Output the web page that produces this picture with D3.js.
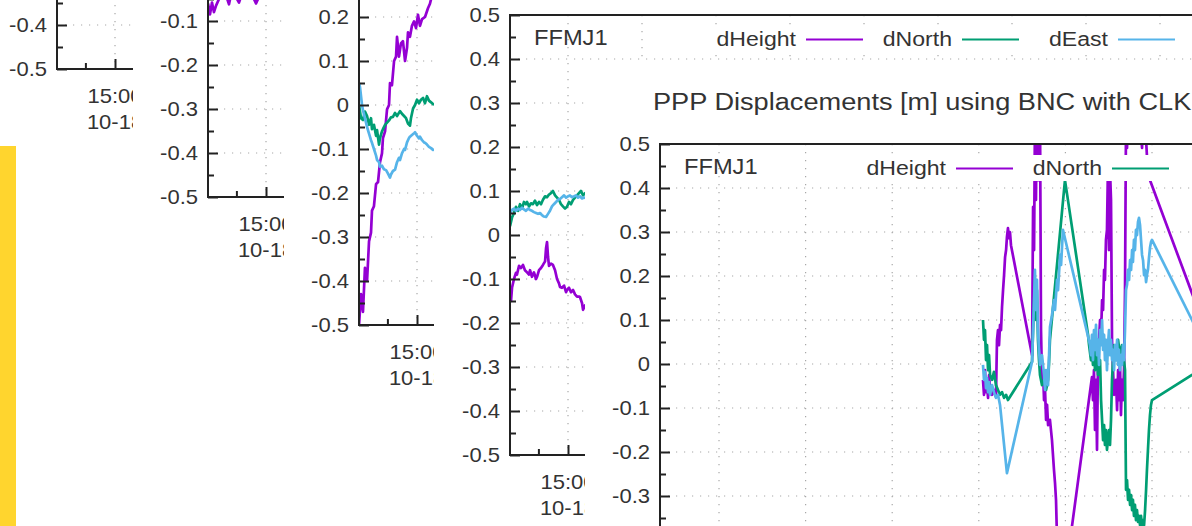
<!DOCTYPE html>
<html><head><meta charset="utf-8">
<script src="https://cdn.jsdelivr.net/npm/d3@7"></script>
<style>
html,body{margin:0;padding:0;background:#fff;}
svg{display:block;}
text{font-family:"Liberation Sans",Arial,sans-serif;fill:#333;}
</style></head><body>
<svg id="chart" width="1192" height="526"></svg>
<script>
// ---------- data ----------
const seriesNames = ["dHeight", "dNorth", "dEast"];
const seriesColors = ["#9400d3", "#009e73", "#56b4e9"];
const stationLabel = "FFMJ1";
const chartTitle = "PPP Displacements [m] using BNC with CLK";
const yMajorTicks = [-0.5, -0.4, -0.3, -0.2, -0.1, 0, 0.1, 0.2, 0.3, 0.4, 0.5];
const yMinorTicks = [-0.45, -0.35, -0.25, -0.15, -0.05, 0.05, 0.15, 0.25, 0.35, 0.45];
const xMajorTicksMin = [0, 60, 120, 180, 240, 300, 360, 420, 480, 540];
const xMinorTicksMin = [-24, 36, 96, 156, 216, 276, 336, 396, 456, 516];
const xTickTimeFormat = "%H:%M";
const xTickDateFormat = "%m-%d";

// [minutes after 15:00, metres]
const panelB_dHeight = [[-47.0,-0.06],[-45.4,-0.085],[-43.8,-0.058],[-42.2,-0.08],[-40.5,-0.065],[-37.3,-0.045],[-33.2,-0.035],[-30.0,-0.062],[-28.4,-0.04],[-25.1,-0.042],[-21.9,-0.058],[-20.3,-0.045],[-16.2,-0.038],[-11.4,-0.04],[-8.1,-0.06],[-6.5,-0.05],[-3.2,-0.035],[1.6,-0.03],[7.3,-0.035],[14.6,-0.03]];

const panelC_dHeight = [[-47.0,-0.5],[-45.4,-0.43],[-43.8,-0.47],[-42.2,-0.37],[-40.5,-0.40],[-38.9,-0.31],[-37.3,-0.29],[-36.5,-0.24],[-34.9,-0.23],[-33.2,-0.18],[-31.6,-0.175],[-30.0,-0.13],[-28.4,-0.11],[-27.6,-0.075],[-25.9,-0.06],[-24.3,-0.01],[-22.7,0.0],[-21.9,0.05],[-20.3,0.045],[-18.6,0.10],[-17.0,0.11],[-16.2,0.155],[-14.6,0.11],[-13.0,0.14],[-11.4,0.145],[-9.7,0.10],[-8.1,0.13],[-7.3,0.165],[-5.7,0.155],[-4.1,0.18],[-2.4,0.19],[-0.8,0.175],[0.8,0.205],[2.4,0.18],[4.1,0.195],[6.5,0.2],[8.9,0.22],[10.5,0.23],[12.2,0.25],[13.8,0.26]];
const panelC_dNorth = [[-47.0,0.0],[-45.4,-0.03],[-43.8,-0.034],[-42.2,-0.015],[-40.5,-0.025],[-38.9,-0.045],[-37.3,-0.03],[-36.5,-0.055],[-34.9,-0.045],[-33.2,-0.07],[-32.4,-0.057],[-30.8,-0.09],[-30.0,-0.075],[-28.4,-0.06],[-27.6,-0.055],[-25.9,-0.045],[-24.3,-0.04],[-22.7,-0.035],[-21.1,-0.028],[-19.5,-0.027],[-17.8,-0.018],[-16.2,-0.025],[-13.8,-0.014],[-12.2,-0.02],[-10.5,-0.025],[-8.9,-0.03],[-7.3,-0.042],[-5.7,-0.047],[-4.9,-0.03],[-3.2,-0.008],[-1.6,0.0],[0,0.012],[1.6,0.004],[3.2,0.012],[4.9,0.016],[6.5,0.004],[8.1,0.02],[9.7,0.01],[11.4,0.006],[13.8,0.0]];
const panelC_dEast = [[-47.0,0.05],[-46.2,0.04],[-45.4,0.02],[-44.6,0.0],[-43.8,-0.012],[-42.2,-0.03],[-40.5,-0.05],[-38.9,-0.065],[-37.3,-0.08],[-36.5,-0.086],[-34.9,-0.1],[-33.2,-0.115],[-32.4,-0.125],[-30.8,-0.13],[-30.0,-0.14],[-28.4,-0.138],[-26.8,-0.146],[-25.1,-0.148],[-23.5,-0.156],[-21.9,-0.165],[-21.1,-0.158],[-19.5,-0.15],[-17.8,-0.147],[-16.2,-0.13],[-14.6,-0.12],[-13.8,-0.125],[-12.2,-0.11],[-10.5,-0.1],[-9.7,-0.102],[-8.1,-0.085],[-6.5,-0.075],[-5.7,-0.072],[-4.1,-0.068],[-2.4,-0.064],[-1.6,-0.062],[0,-0.07],[1.6,-0.076],[2.4,-0.072],[4.1,-0.08],[5.7,-0.085],[6.5,-0.086],[8.1,-0.09],[9.7,-0.095],[11.4,-0.098],[13.0,-0.102],[13.8,-0.1]];

const panelD_dHeight = [[-47.0,-0.13],[-46.2,-0.15],[-45.4,-0.12],[-43.8,-0.1],[-42.2,-0.086],[-41.4,-0.09],[-39.7,-0.07],[-38.1,-0.075],[-36.5,-0.068],[-34.9,-0.08],[-33.2,-0.085],[-31.6,-0.09],[-30.8,-0.08],[-29.2,-0.095],[-27.6,-0.085],[-25.9,-0.1],[-25.1,-0.095],[-23.5,-0.08],[-21.9,-0.075],[-20.3,-0.068],[-18.6,-0.06],[-17.8,-0.03],[-17.0,-0.016],[-16.2,-0.05],[-15.4,-0.07],[-13.8,-0.065],[-12.2,-0.068],[-10.5,-0.08],[-8.9,-0.1],[-7.3,-0.11],[-6.5,-0.118],[-4.9,-0.12],[-3.2,-0.115],[-1.6,-0.13],[-0.8,-0.125],[0.8,-0.12],[2.4,-0.13],[4.1,-0.125],[5.7,-0.135],[7.3,-0.14],[8.9,-0.14],[9.7,-0.141],[11.4,-0.155],[12.2,-0.17],[13.8,-0.16],[17.8,-0.17]];
const panelD_dNorth = [[-47.0,0.02],[-45.4,0.04],[-43.8,0.05],[-42.2,0.064],[-40.5,0.055],[-38.9,0.07],[-37.3,0.06],[-35.7,0.075],[-34.1,0.07],[-33.2,0.075],[-31.6,0.065],[-30.0,0.072],[-28.4,0.07],[-26.8,0.078],[-25.1,0.068],[-23.5,0.075],[-21.9,0.07],[-20.3,0.08],[-18.6,0.088],[-17.0,0.086],[-15.4,0.092],[-13.8,0.095],[-12.2,0.1],[-10.5,0.09],[-8.9,0.085],[-7.3,0.08],[-5.7,0.07],[-4.1,0.065],[-2.4,0.06],[-0.8,0.064],[0.8,0.075],[2.4,0.07],[4.1,0.08],[5.7,0.085],[7.3,0.09],[8.9,0.095],[10.5,0.1],[12.2,0.09],[13.8,0.095],[17.8,0.09]];
const panelD_dEast = [[-47.0,0.05],[-45.4,0.057],[-43.8,0.06],[-42.2,0.055],[-40.5,0.06],[-38.9,0.057],[-37.3,0.062],[-35.7,0.058],[-34.1,0.055],[-32.4,0.06],[-30.8,0.057],[-29.2,0.055],[-27.6,0.052],[-25.9,0.05],[-24.3,0.048],[-22.7,0.05],[-21.1,0.045],[-19.5,0.042],[-17.8,0.041],[-16.2,0.048],[-14.6,0.055],[-13.0,0.065],[-11.4,0.07],[-9.7,0.075],[-8.1,0.08],[-6.5,0.082],[-4.9,0.086],[-3.2,0.09],[-1.6,0.085],[0,0.088],[1.6,0.09],[3.2,0.086],[4.9,0.088],[6.5,0.09],[8.1,0.085],[9.7,0.088],[11.4,0.083],[13.0,0.085],[17.8,0.08]];

const panelE_dHeight = [[182.9,-0.036],[183.6,-0.070],[184.3,-0.014],[185.0,-0.064],[185.7,-0.048],[186.4,-0.077],[187.1,-0.025],[187.8,-0.055],[189.2,-0.070],[190.5,-0.059],[191.9,-0.075],[192.6,0.055],[193.3,0.077],[194.0,0.043],[194.7,0.089],[195.4,0.077],[196.1,0.130],[196.8,0.168],[197.5,0.202],[198.2,0.243],[198.9,0.259],[199.5,0.289],[200.2,0.309],[200.9,0.286],[201.6,0.300],[202.3,0.270],[216.9,0.020],[217.6,0.357],[218.3,0.259],[218.9,0.555],[219.6,0.373],[220.3,0.600],[221.0,0.418],[221.7,0.623],[222.4,0.577],[223.1,0.077],[223.8,-0.036],[224.5,-0.014],[225.2,-0.082],[225.9,-0.059],[226.6,-0.127],[227.3,-0.093],[228.0,-0.139],[229.3,-0.127],[230.7,-0.173],[232.1,-0.241],[232.8,-0.270],[233.5,-0.309],[234.2,-0.400],[234.9,-0.605],[258.4,-0.030],[259.1,-0.082],[259.8,-0.014],[260.5,-0.150],[261.2,-0.036],[261.9,-0.195],[262.6,0.009],[263.3,0.055],[264.0,0.100],[264.7,0.066],[265.4,0.145],[266.1,0.123],[266.8,0.214],[267.4,0.191],[268.1,0.282],[268.8,0.305],[269.5,0.450],[270.2,0.259],[270.9,0.440],[271.6,0.373],[272.3,0.055],[273.0,-0.014],[273.7,-0.070],[275.1,-0.036],[275.8,-0.105],[276.5,-0.014],[277.1,-0.082],[277.8,0.009],[278.5,-0.116],[279.2,-0.036],[279.9,-0.082],[280.6,-0.014],[281.3,0.168],[282.0,0.555],[282.7,0.491],[283.4,0.600],[284.8,0.532],[288.2,0.577],[291.7,0.555],[293.1,0.491],[293.8,0.577],[295.9,0.509],[297.2,0.430],[327.7,0.161],[340.2,0.055]];
const panelE_dNorth = [[182.9,0.100],[183.6,0.055],[184.3,0.077],[185.0,0.009],[185.7,0.043],[186.4,-0.014],[187.1,0.020],[187.8,-0.025],[189.2,-0.036],[190.5,-0.018],[191.9,-0.048],[193.3,-0.059],[194.7,-0.070],[196.1,-0.064],[197.5,-0.077],[198.9,-0.070],[200.2,-0.082],[216.9,0.005],[217.6,0.077],[218.3,0.145],[218.9,0.191],[219.6,0.100],[220.3,0.168],[221.0,0.055],[221.7,0.009],[222.4,-0.025],[223.8,-0.048],[225.2,-0.036],[226.6,-0.059],[228.0,-0.036],[228.6,-0.002],[229.3,0.055],[239.7,0.418],[255.7,0.066],[256.4,0.043],[257.7,0.009],[258.4,0.032],[259.1,-0.002],[259.8,0.043],[260.5,-0.014],[261.2,0.032],[262.6,-0.025],[264.0,0.009],[264.7,-0.082],[265.4,-0.127],[266.1,-0.173],[266.8,-0.139],[267.4,-0.184],[268.1,-0.150],[268.8,-0.195],[269.5,-0.173],[270.2,-0.150],[270.9,-0.184],[271.6,-0.127],[272.3,-0.036],[273.0,0.009],[273.7,0.043],[275.1,0.009],[276.5,0.055],[277.8,0.020],[279.2,0.043],[280.6,0.009],[281.3,-0.014],[282.0,-0.286],[282.7,-0.264],[283.4,-0.309],[284.1,-0.286],[284.8,-0.320],[285.5,-0.298],[286.2,-0.332],[286.8,-0.309],[287.5,-0.345],[288.2,-0.320],[288.9,-0.355],[289.6,-0.332],[290.3,-0.359],[291.0,-0.345],[291.7,-0.366],[292.4,-0.345],[293.1,-0.373],[293.8,-0.355],[294.5,-0.366],[295.2,-0.332],[295.9,-0.286],[296.5,-0.241],[297.2,-0.195],[297.9,-0.150],[298.6,-0.116],[299.3,-0.093],[300.0,-0.082],[327.7,-0.025],[340.2,-0.002]];
const panelE_dEast = [[182.9,-0.002],[183.6,-0.036],[184.3,-0.018],[185.0,-0.055],[185.7,-0.032],[186.4,-0.064],[187.1,-0.041],[187.8,-0.070],[189.2,-0.048],[190.5,-0.064],[191.9,-0.077],[193.3,-0.070],[194.7,-0.093],[199.5,-0.248],[216.9,0.005],[217.6,0.077],[218.3,0.145],[218.9,0.214],[219.6,0.123],[220.3,0.191],[221.0,0.077],[221.7,0.032],[222.4,-0.002],[223.8,0.020],[225.2,-0.025],[225.9,-0.059],[226.6,-0.014],[228.0,-0.048],[229.3,0.084],[230.7,0.111],[232.1,0.145],[232.8,0.123],[234.2,0.191],[234.9,0.168],[236.3,0.248],[237.0,0.225],[238.3,0.305],[257.1,0.043],[257.7,0.020],[258.4,0.066],[259.1,0.009],[259.8,0.077],[260.5,0.032],[261.2,0.089],[261.9,0.020],[262.6,0.055],[263.3,-0.002],[264.0,0.077],[264.7,0.043],[265.4,0.100],[266.1,0.032],[266.8,0.066],[267.4,0.009],[268.1,0.055],[268.8,-0.014],[269.5,0.043],[270.2,0.077],[270.9,0.020],[271.6,0.055],[272.3,0.009],[273.0,0.032],[273.7,-0.014],[274.4,0.043],[275.1,0.009],[275.8,0.055],[276.5,-0.002],[277.1,0.032],[277.8,-0.014],[278.5,0.020],[279.2,-0.002],[279.9,0.043],[280.6,0.009],[281.3,0.077],[282.0,0.168],[282.7,0.180],[283.4,0.214],[284.1,0.191],[284.8,0.236],[285.5,0.214],[286.2,0.259],[286.8,0.232],[287.5,0.282],[288.2,0.259],[288.9,0.305],[289.6,0.293],[290.3,0.323],[291.0,0.332],[291.7,0.316],[292.4,0.282],[293.1,0.248],[293.8,0.236],[294.5,0.202],[295.2,0.214],[295.9,0.186],[296.5,0.202],[297.2,0.214],[297.9,0.241],[298.6,0.264],[299.3,0.277],[300.0,0.282],[327.7,0.100],[340.2,0.020]];

// ---------- layout ----------
const W = 1192, H = 526;
const SX = 1.1;               // horizontal text stretch of the screenshot
const PLOT_H = 440, PLOT_W = 760;
const baseTime = new Date(2017, 9, 18, 15, 0);
const tOf = m => new Date(baseTime.getTime() + m * 60000);

const legCfg = {fs: 21, end: 286, gap: 156, len: 57, line: 24.5, base: 31, boxL: 190, boxR: 760};
const panels = [
  {bgX: -18, bgY: -500, bgH: 646, plotLeft: 57,  plotTop: -371, startMin: -47.03, pxPerHour: 74, series: []},
  {bgX: 133, bgY: -500, bgH: 1200, plotLeft: 208, plotTop: -243, startMin: -47.03, pxPerHour: 74, series: [panelB_dHeight, null, null]},
  {bgX: 284, bgY: -500, bgH: 1200, plotLeft: 359, plotTop: -115, startMin: -47.03, pxPerHour: 74, series: [panelC_dHeight, panelC_dNorth, panelC_dEast]},
  {bgX: 434, bgY: -67, bgH: 1200, plotLeft: 510, plotTop: 15, startMin: -47.03, pxPerHour: 74, series: [panelD_dHeight, panelD_dNorth, panelD_dEast]},
  {bgX: 585, bgY: 62, bgH: 1200, plotLeft: 660, plotTop: 144, startMin: -40.88, pxPerHour: 86.6, series: [panelE_dHeight, panelE_dNorth, panelE_dEast]}
];

// is a text box (screen px) at least partly visible for panel i?
function visible(i, x0, y0, x1, y1) {
  const p = panels[i];
  if (x1 < 0 || y1 < 0 || x0 > W || y0 > H) return false;
  if (x1 < p.bgX || y1 < p.bgY || y0 > p.bgY + p.bgH) return false;
  for (let j = i + 1; j < panels.length; j++) {
    if (x0 >= panels[j].bgX && y0 >= panels[j].bgY) return false;
  }
  return true;
}
function boxOf(x, y, str, fs, anchor) {
  const w = str.length * fs * 0.56 * SX;
  const x0 = anchor === "end" ? x - w : anchor === "middle" ? x - w / 2 : x;
  return [x0, y - fs * 0.75, x0 + w, y + fs * 0.25];
}

const svg = d3.select("#chart");
svg.append("rect").attr("width", W).attr("height", H).attr("fill", "#fff");
svg.append("rect").attr("x", 0).attr("y", 146).attr("width", 16).attr("height", 380).attr("fill", "#ffd52e");

function stretchText(i, g, x, y, str, fs, anchor) {
  if (!visible(i, ...boxOf(x, y, str, fs, anchor))) return null;
  return g.append("text")
    .attr("transform", `translate(${x},${y}) scale(${SX},1)`)
    .attr("text-anchor", anchor)
    .attr("font-size", fs)
    .text(str);
}
const fmtY = v => (Math.abs(v) < 1e-9 ? "0" : String(+v.toFixed(1)));
const fmtT = d3.timeFormat(xTickTimeFormat), fmtD = d3.timeFormat(xTickDateFormat);

panels.forEach((p, i) => {
  const clipBg = "bg" + i, clipPlot = "pl" + i;
  const defs = svg.append("defs");
  defs.append("clipPath").attr("id", clipBg).append("rect")
    .attr("x", p.bgX).attr("y", p.bgY).attr("width", 2000).attr("height", p.bgH);
  const L = p.plotLeft, T = p.plotTop, B = T + PLOT_H, R = L + PLOT_W;
  defs.append("clipPath").attr("id", clipPlot).append("rect")
    .attr("x", L).attr("y", T).attr("width", PLOT_W).attr("height", PLOT_H);

  const g = svg.append("g").attr("clip-path", `url(#${clipBg})`);
  g.append("rect").attr("x", p.bgX).attr("y", p.bgY).attr("width", 2000).attr("height", p.bgH).attr("fill", "#fff");

  const x = d3.scaleTime()
    .domain([tOf(p.startMin), tOf(p.startMin + PLOT_W / p.pxPerHour * 60)])
    .range([L, R]);
  const y = d3.scaleLinear().domain([-0.5, 0.5]).range([B, T]);

  // grid
  const grid = g.append("g").attr("stroke", "#a8a8a8").attr("stroke-width", 1.2).attr("stroke-dasharray", "1.2,6.8").attr("fill", "none");
  yMajorTicks.filter(v => v > -0.5 && v < 0.5).forEach(v => {
    grid.append("line").attr("x1", L).attr("x2", R).attr("y1", y(v)).attr("y2", y(v));
  });
  xMajorTicksMin.forEach(m => {
    grid.append("line").attr("x1", x(tOf(m))).attr("x2", x(tOf(m))).attr("y1", T).attr("y2", B);
  });

  // data
  const line = d3.line().x(d => x(tOf(d[0]))).y(d => y(d[1]));
  const dg = g.append("g").attr("clip-path", `url(#${clipPlot})`);
  p.series.forEach((s, k) => {
    if (!s) return;
    dg.append("path").datum(s).attr("d", line)
      .attr("fill", "none").attr("stroke", seriesColors[k])
      .attr("stroke-width", 2.7).attr("stroke-linejoin", "round");
  });

  // axes ticks
  const yAxisMajor = d3.axisLeft(y).tickValues(yMajorTicks).tickSizeInner(-10).tickSizeOuter(0).tickPadding(10).tickFormat(fmtY);
  const ya = g.append("g").attr("transform", `translate(${L},0)`).call(yAxisMajor);
  ya.select(".domain").remove();
  ya.selectAll(".tick line").attr("stroke", "#222").attr("stroke-width", 2);
  ya.selectAll(".tick text").attr("font-size", 20).attr("font-family", "Liberation Sans, Arial, sans-serif")
    .attr("fill", "#333").attr("transform", `scale(${SX},1)`).attr("x", -10 / SX)
    .each(function(v) {
      const yy = y(v);
      if (!visible(i, L - 56, yy - 10, L - 10, yy + 10)) d3.select(this).remove();
    });
  const yAxisMinor = d3.axisLeft(y).tickValues(yMinorTicks).tickSizeInner(-6).tickSizeOuter(0).tickFormat("");
  const ym = g.append("g").attr("transform", `translate(${L},0)`).call(yAxisMinor);
  ym.select(".domain").remove();
  ym.selectAll(".tick line").attr("stroke", "#222").attr("stroke-width", 2);

  const xAxisMajor = d3.axisBottom(x).tickValues(xMajorTicksMin.map(tOf)).tickSizeInner(-10).tickSizeOuter(0).tickFormat("");
  const xa = g.append("g").attr("transform", `translate(0,${B})`).call(xAxisMajor);
  xa.select(".domain").remove();
  xa.selectAll(".tick line").attr("stroke", "#222").attr("stroke-width", 2);
  const xAxisMinor = d3.axisBottom(x).tickValues(xMinorTicksMin.map(tOf)).tickSizeInner(-6).tickSizeOuter(0).tickFormat("");
  const xm = g.append("g").attr("transform", `translate(0,${B})`).call(xAxisMinor);
  xm.select(".domain").remove();
  xm.selectAll(".tick line").attr("stroke", "#222").attr("stroke-width", 2);

  xMajorTicksMin.forEach(m => {
    const t = tOf(m), px = x(t);
    stretchText(i, g, px, B + 34, fmtT(t), 20, "middle");
    stretchText(i, g, px, B + 59.5, fmtD(t), 20, "middle");
  });

  // border
  g.append("rect").attr("x", L).attr("y", T).attr("width", PLOT_W).attr("height", PLOT_H)
    .attr("fill", "none").attr("stroke", "#222").attr("stroke-width", 2);

  // title and station label
  stretchText(i, g, L - 7, T - 34, chartTitle, 24.7, "start");
  stretchText(i, g, L + 24, T + 29.5, stationLabel, 21.5, "start");

  // opaque key
  const lg = legCfg;
  g.append("rect").attr("x", L + lg.boxL).attr("y", T + 11).attr("width", lg.boxR - lg.boxL).attr("height", 26).attr("fill", "#fff");
  seriesNames.forEach((n, k) => {
    const te = L + lg.end + k * lg.gap;
    stretchText(i, g, te, T + lg.base, n, lg.fs, "end");
    g.append("line").attr("x1", te + 10).attr("x2", te + 10 + lg.len)
      .attr("y1", T + lg.line).attr("y2", T + lg.line)
      .attr("stroke", seriesColors[k]).attr("stroke-width", 2);
  });
});
</script>
</body></html>
